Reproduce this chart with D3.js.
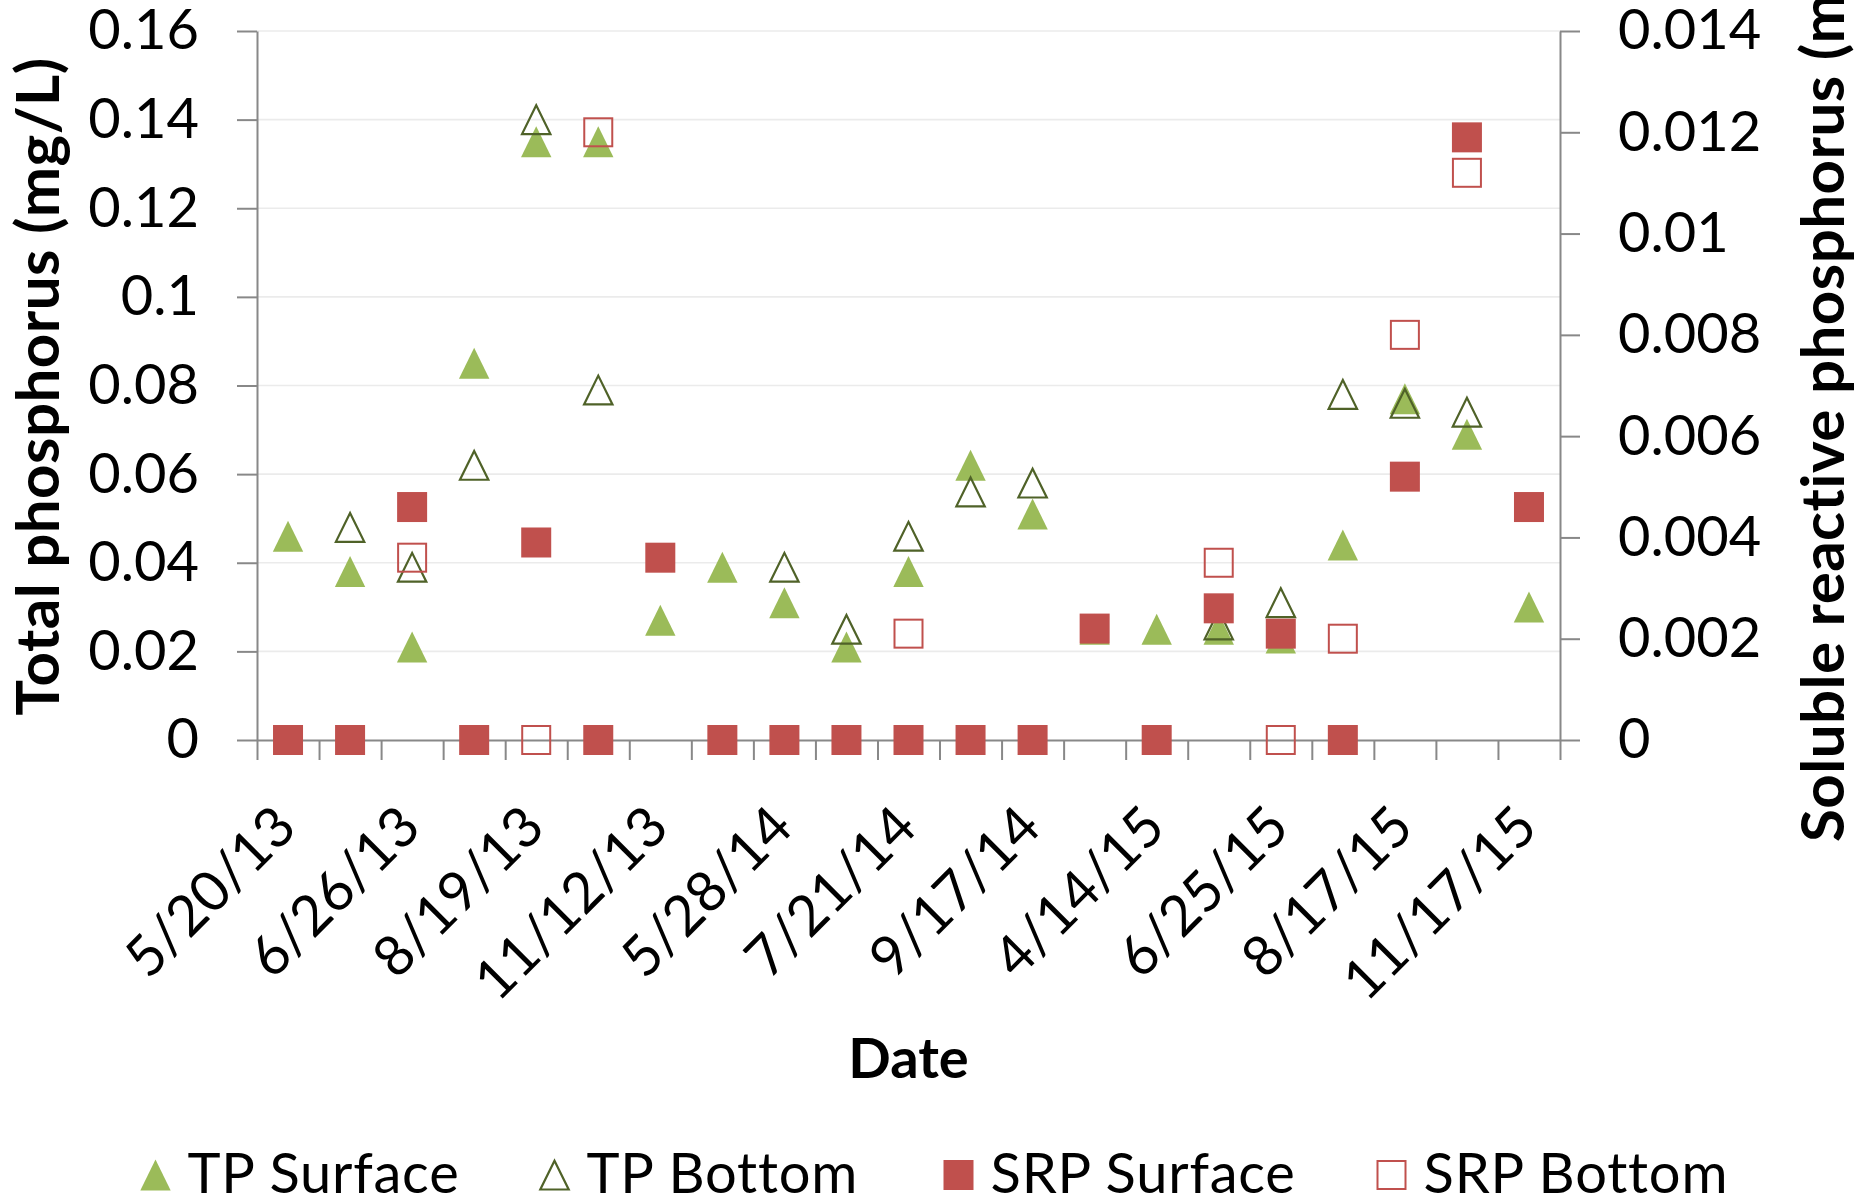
<!DOCTYPE html>
<html>
<head>
<meta charset="utf-8">
<script src="https://cdn.jsdelivr.net/npm/d3@7"></script>
<style>
  html, body { margin: 0; padding: 0; background: #fff; }
  svg { display: block; font-family: Lato, "Open Sans", sans-serif; }
</style>
</head>
<body>
<svg id="chart" width="1860" height="1202"></svg>
<script>
// Sampling dates (only every other one carries a label on the axis)
const dateLabels = ["5/20/13", "", "6/26/13", "", "8/19/13", "", "11/12/13", "", "5/28/14", "",
                    "7/21/14", "", "9/17/14", "", "4/14/15", "", "6/25/15", "", "8/17/15", "", "11/17/15"];

// Total phosphorus (mg/L), left axis
const tpSurface = [0.046, 0.038, 0.021, 0.085, 0.135, 0.135, 0.027, 0.039, 0.031, 0.021, 0.038,
                   0.062, 0.051, 0.025, 0.025, 0.025, 0.023, 0.044, 0.077, 0.069, 0.030];
const tpBottom  = [null, 0.048, 0.039, 0.062, 0.140, 0.079, null, null, 0.039, 0.025, 0.046,
                   0.056, 0.058, null, null, 0.026, 0.031, 0.078, 0.076, 0.074, null];

// Soluble reactive phosphorus (mg/L), right axis
const srpSurface = [0, 0, 0.0046, 0, 0.0039, 0, 0.0036, 0, 0, 0, 0,
                    0, 0, 0.0022, 0, 0.0026, 0.0021, 0, 0.0052, 0.0119, 0.0046];
const srpBottom  = [null, null, 0.0036, null, 0, 0.0120, null, null, null, null, 0.0021,
                    null, null, null, null, 0.0035, 0, 0.0020, 0.0080, 0.0112, null];

// Axis tick values
const leftTicks  = [0, 0.02, 0.04, 0.06, 0.08, 0.1, 0.12, 0.14, 0.16];
const rightTicks = [0, 0.002, 0.004, 0.006, 0.008, 0.01, 0.012, 0.014];

const seriesNames = ["TP Surface", "TP Bottom", "SRP Surface", "SRP Bottom"];

// ---- layout ----
const plot = { left: 257, right: 1560, top: 31, bottom: 740 };
const FONT = "Lato, 'Open Sans', sans-serif";
const AXIS_COLOR = "#888888";
const GREEN = "#9bbb59", OLIVE = "#4f6228", RED = "#c0504d";

const svg = d3.select("#chart");
const n = dateLabels.length;

const x = d3.scaleBand().domain(d3.range(n)).range([plot.left, plot.right]);
const xEdge = d3.scaleLinear().domain([0, n]).range([plot.left, plot.right]);
const yL = d3.scaleLinear().domain([0, 0.16]).range([plot.bottom, plot.top]);
const yR = d3.scaleLinear().domain([0, 0.014]).range([plot.bottom, plot.top]);
const fmt = v => String(+v.toFixed(4));
const cx = i => x(i) + x.bandwidth() / 2;

// horizontal gridlines
svg.append("g")
  .selectAll("line")
  .data(leftTicks.slice(1))
  .join("line")
  .attr("x1", plot.left).attr("x2", plot.right)
  .attr("y1", d => yL(d)).attr("y2", d => yL(d))
  .attr("stroke", "#ebebeb").attr("stroke-width", 1.6);

function styleAxis(g) {
  g.attr("font-family", FONT).attr("font-size", 56);
  g.selectAll(".domain, .tick line").attr("stroke", AXIS_COLOR).attr("stroke-width", 2);
  g.selectAll(".tick text").attr("fill", "#000");
}

// left axis
svg.append("g")
  .attr("transform", `translate(${plot.left},0)`)
  .call(d3.axisLeft(yL).tickValues(leftTicks).tickFormat(fmt)
        .tickSize(20).tickSizeOuter(0).tickPadding(38))
  .call(styleAxis);

// right axis
svg.append("g")
  .attr("transform", `translate(${plot.right},0)`)
  .call(d3.axisRight(yR).tickValues(rightTicks).tickFormat(fmt)
        .tickSize(20).tickSizeOuter(0).tickPadding(38))
  .call(styleAxis);

// category boundary ticks + horizontal axis line
svg.append("g")
  .attr("transform", `translate(0,${plot.bottom})`)
  .call(d3.axisBottom(xEdge).tickValues(d3.range(n + 1)).tickFormat("")
        .tickSize(20).tickSizeOuter(0))
  .call(styleAxis);

// rotated date labels
const labelAxis = svg.append("g")
  .attr("transform", `translate(0,${plot.bottom})`)
  .call(d3.axisBottom(x).tickSize(0).tickFormat(i => dateLabels[i]))
  .call(styleAxis);
labelAxis.select(".domain").remove();
labelAxis.selectAll(".tick text")
  .attr("x", 11).attr("y", 90).attr("dy", null)
  .attr("text-anchor", "end")
  .attr("transform", "rotate(-45,11,90)");

// ---- markers ----
const triPath = "M0,-15.5L15.2,15.5L-15.2,15.5Z";
const triOpenPath = "M0,-14.3L14.2,14.5L-14.2,14.5Z";

function drawTriangles(values, filled) {
  svg.append("g")
    .selectAll("path")
    .data(values.map((v, i) => ({ v, i })).filter(d => d.v !== null))
    .join("path")
    .attr("transform", d => `translate(${cx(d.i)},${yL(d.v)})`)
    .attr("d", filled ? triPath : triOpenPath)
    .attr("fill", filled ? GREEN : "none")
    .attr("stroke", filled ? "none" : OLIVE)
    .attr("stroke-width", filled ? 0 : 2.2);
}

function drawSquares(values, filled) {
  const s = filled ? 30 : 28;
  svg.append("g")
    .selectAll("rect")
    .data(values.map((v, i) => ({ v, i })).filter(d => d.v !== null))
    .join("rect")
    .attr("x", d => cx(d.i) - s / 2)
    .attr("y", d => yR(d.v) - s / 2)
    .attr("width", s).attr("height", s)
    .attr("fill", filled ? RED : "none")
    .attr("stroke", filled ? "none" : RED)
    .attr("stroke-width", filled ? 0 : 2);
}

drawTriangles(tpSurface, true);
drawTriangles(tpBottom, false);
drawSquares(srpSurface, true);
drawSquares(srpBottom, false);

// ---- axis titles ----
const midY = (plot.top + plot.bottom) / 2;
svg.append("text")
  .attr("transform", `translate(59,${midY + 1}) rotate(-90)`)
  .attr("text-anchor", "middle")
  .attr("font-family", FONT).attr("font-weight", 700).attr("font-size", 60)
  .attr("letter-spacing", 0.5)
  .text("Total phosphorus (mg/L)");

svg.append("text")
  .attr("transform", `translate(1844,842) rotate(-90)`)
  .attr("text-anchor", "start")
  .attr("font-family", FONT).attr("font-weight", 700).attr("font-size", 60)
  .attr("letter-spacing", 0.5)
  .text("Soluble reactive phosphorus (mg/L)");

svg.append("text")
  .attr("x", (plot.left + plot.right) / 2).attr("y", 1078)
  .attr("text-anchor", "middle")
  .attr("font-family", FONT).attr("font-weight", 700).attr("font-size", 56)
  .text("Date");

// ---- legend ----
const legendY = 1175;
const legendStarts = [140, 539, 943, 1376];
const legend = svg.append("g");
seriesNames.forEach((name, k) => {
  const g = legend.append("g").attr("transform", `translate(${legendStarts[k] + 15.5},${legendY})`);
  if (k === 0) g.append("path").attr("d", triPath).attr("fill", GREEN);
  if (k === 1) g.append("path").attr("d", triOpenPath).attr("fill", "none").attr("stroke", OLIVE).attr("stroke-width", 2.2);
  if (k === 2) g.append("rect").attr("x", -15).attr("y", -15).attr("width", 30).attr("height", 30).attr("fill", RED);
  if (k === 3) g.append("rect").attr("x", -14).attr("y", -14).attr("width", 28).attr("height", 28)
                 .attr("fill", "none").attr("stroke", RED).attr("stroke-width", 2);
  g.append("text")
    .attr("x", 32).attr("y", 18)
    .attr("font-family", FONT).attr("font-size", 56).attr("letter-spacing", 0.8).attr("fill", "#000")
    .text(name);
});
</script>
</body>
</html>
